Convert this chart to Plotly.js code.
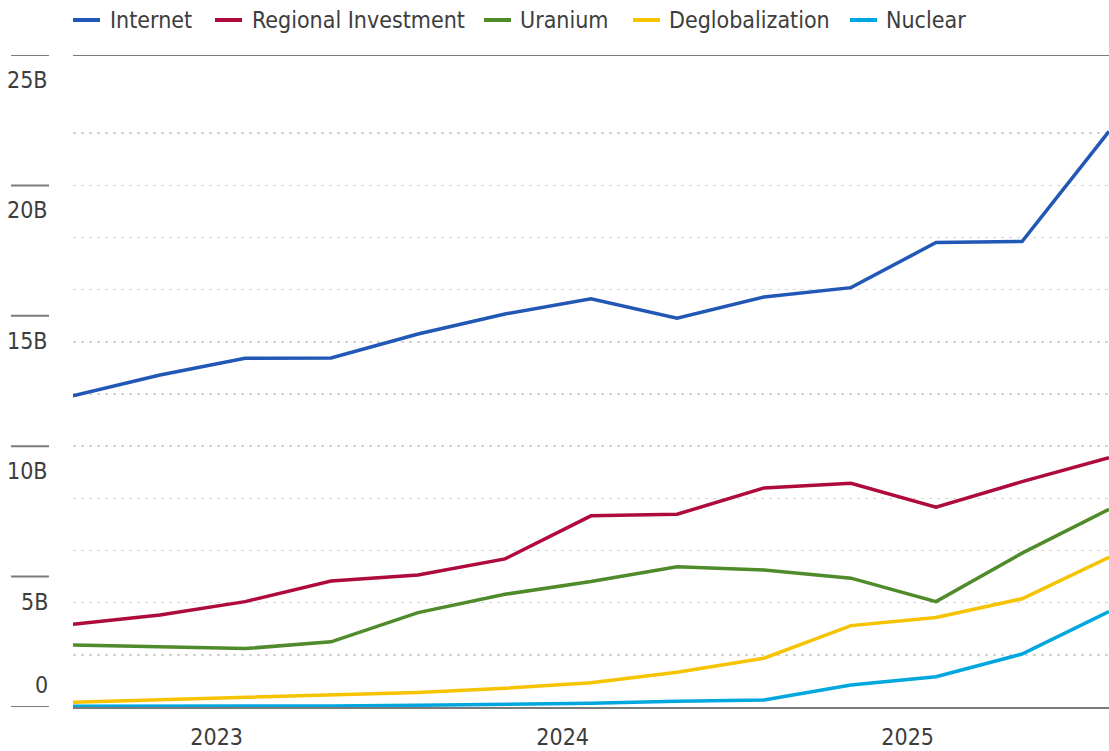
<!DOCTYPE html>
<html>
<head>
<meta charset="utf-8">
<script src="https://cdn.plot.ly/plotly-3.0.1.min.js"></script>
<style>
  html, body { margin: 0; padding: 0; background: #fff; }
  #chart { width: 1109px; height: 751px; }
</style>
</head>
<body>
<div id="chart"></div>
<script>
// Quarterly observation dates
const dates = ['2022-09-30','2022-12-31','2023-03-31','2023-06-30','2023-09-30','2023-12-31',
               '2024-03-31','2024-06-30','2024-09-30','2024-12-31','2025-03-31','2025-06-30','2025-09-30'];

// Series values (billions USD)
const internet     = [11.93, 12.73, 13.37, 13.38, 14.30, 15.07, 15.65, 14.91, 15.72, 16.08, 17.81, 17.85, 22.07];
const regionalInv  = [3.17, 3.53, 4.04, 4.83, 5.06, 5.68, 7.33, 7.39, 8.40, 8.58, 7.66, 8.64, 9.56];
const uranium      = [2.38, 2.31, 2.24, 2.50, 3.62, 4.32, 4.81, 5.38, 5.25, 4.94, 4.04, 5.90, 7.58];
const deglobal     = [0.18, 0.27, 0.37, 0.46, 0.56, 0.72, 0.93, 1.33, 1.87, 3.12, 3.43, 4.15, 5.74];
const nuclear      = [0.03, 0.03, 0.03, 0.04, 0.07, 0.10, 0.14, 0.22, 0.27, 0.84, 1.16, 2.03, 3.66];

const seriesNames  = ['Internet', 'Regional Investment', 'Uranium', 'Deglobalization', 'Nuclear'];

// Axis labels
const yearTickVals = ['2023-03-01', '2024-03-01', '2025-03-01'];
const yearTickText = ['2023', '2024', '2025'];
const yLabelVals   = [0, 5, 10, 15, 20, 25];
const yLabelText   = ['0', '5B', '10B', '15B', '20B', '25B'];
const yGridVals    = [0, 2, 4, 6, 8, 10, 12, 14, 16, 18, 20, 22];

const colors = ['#2157b5', '#ae0a3c', '#4f8a2b', '#f5c300', '#00a7df'];
const values = [internet, regionalInv, uranium, deglobal, nuclear];

const FONT = '"Liberation Sans Narrow", "DejaVu Sans Condensed", "Roboto", sans-serif';
const TXT = '#3d3d3d';
const FS = 23;

// plot-area geometry (px) used to place the hand-built legend
const PL = 73, PW = 1036, PT = 55, PH = 652;
const legendSymX = [73, 215, 484, 633, 850];
const legendTxtX = [110, 252, 520, 669, 886];
const legendY = 20;
const px2x = p => (p - PL) / PW;
const px2y = p => (PT + PH - p) / PH;

const traces = values.map((v, i) => ({
  type: 'scatter',
  mode: 'lines',
  x: dates,
  y: v,
  name: seriesNames[i],
  line: { color: colors[i], width: 3.5 },
  cliponaxis: false
}));

const shapes = [];
// top rule
shapes.push({ type: 'line', xref: 'paper', yref: 'y', x0: 0, x1: 1, y0: 25, y1: 25,
              line: { color: '#7a7a7a', width: 2 } });
// short left tick rules
yLabelVals.forEach(v => {
  shapes.push({ type: 'line', xref: 'paper', yref: 'y', x0: -0.0598, x1: -0.0232, y0: v, y1: v,
                line: { color: '#7a7a7a', width: 2 } });
});
// legend symbols
seriesNames.forEach((n, i) => {
  shapes.push({ type: 'line', xref: 'paper', yref: 'paper',
                x0: px2x(legendSymX[i]), x1: px2x(legendSymX[i] + 27),
                y0: px2y(legendY), y1: px2y(legendY),
                line: { color: colors[i], width: 4 } });
});

const annotations = yLabelVals.map((v, i) => ({
  xref: 'paper', yref: 'y', x: -0.0232, y: v,
  text: yLabelText[i], showarrow: false, xanchor: 'right', yanchor: 'middle',
  yshift: v === 0 ? 22 : -25, xshift: 1,
  font: { family: FONT, size: FS, color: TXT }
}));
seriesNames.forEach((n, i) => {
  annotations.push({
    xref: 'paper', yref: 'paper', x: px2x(legendTxtX[i]), y: px2y(legendY),
    text: n, showarrow: false, xanchor: 'left', yanchor: 'middle',
    xshift: -2,
    font: { family: FONT, size: FS, color: TXT }
  });
});

const layout = {
  width: 1109, height: 751,
  margin: { l: PL, r: 0, t: PT, b: 44 },
  paper_bgcolor: '#fff', plot_bgcolor: '#fff',
  showlegend: false,
  xaxis: {
    type: 'date',
    range: [dates[0], dates[dates.length - 1]],
    tickvals: yearTickVals, ticktext: yearTickText,
    showgrid: false, zeroline: false,
    showline: true, linecolor: '#7a7a7a', linewidth: 2,
    ticks: '', ticklabelstandoff: 8,
    tickfont: { family: FONT, size: FS, color: TXT },
    fixedrange: true
  },
  yaxis: {
    range: [0, 25],
    tickvals: yGridVals,
    showticklabels: false,
    showgrid: true, gridcolor: '#d4d4d4', gridwidth: 1.5, griddash: '3px,5px',
    zeroline: false, showline: false, ticks: '',
    fixedrange: true
  },
  shapes: shapes,
  annotations: annotations
};

Plotly.newPlot('chart', traces, layout, { displayModeBar: false, staticPlot: true });
</script>
</body>
</html>
